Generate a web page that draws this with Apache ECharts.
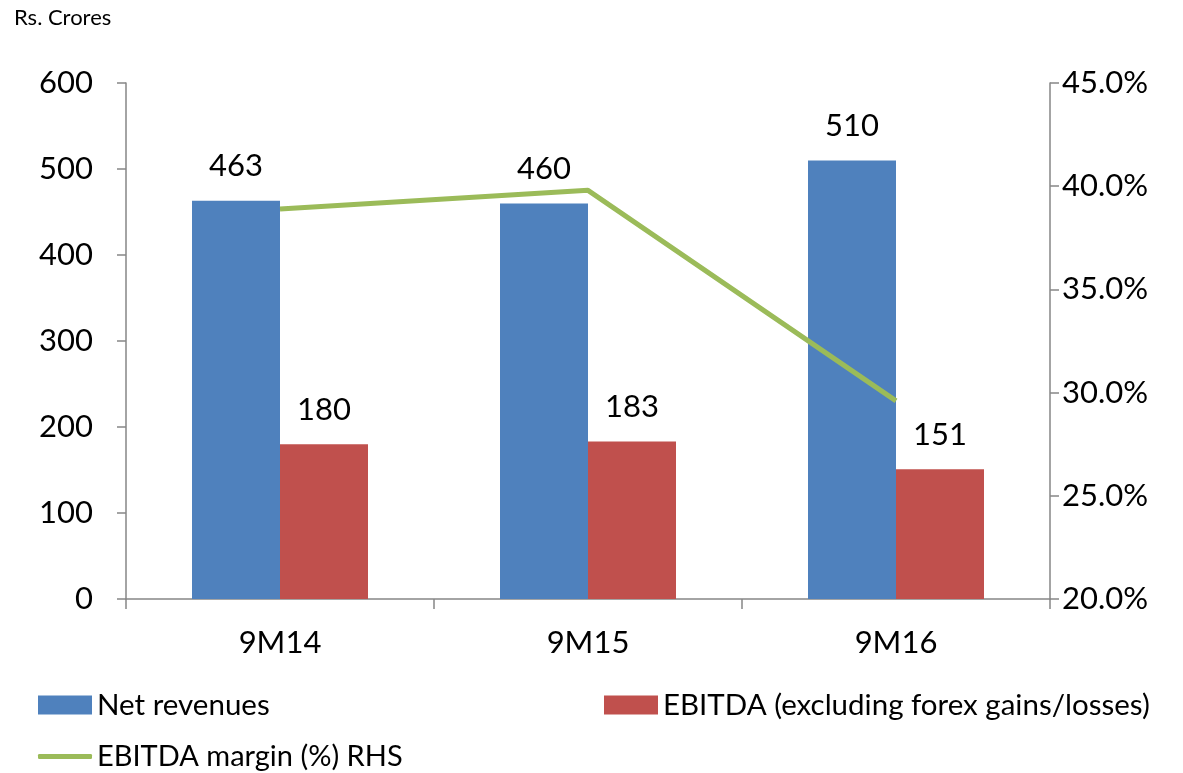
<!DOCTYPE html>
<html>
<head>
<meta charset="utf-8">
<script src="https://cdn.jsdelivr.net/npm/echarts@6/dist/echarts.min.js"></script>
<style>
html,body{margin:0;padding:0;background:#fff;}
#chart{width:1183px;height:773px;}
</style>
</head>
<body>
<div id="chart"></div>
<script>
const categories = ['9M14', '9M15', '9M16'];
const netRevenues = [463, 460, 510];
const ebitda = [180, 183, 151];
const ebitdaMargin = [38.9, 39.8, 29.6];
const leftTicks = { min: 0, max: 600, interval: 100 };
const rightTicks = { min: 20, max: 45, interval: 5 };

const FONT = 'Lato';
const axisGray = '#868686';
const chart = echarts.init(document.getElementById('chart'));
chart.setOption({
  backgroundColor: '#ffffff',
  textStyle: { fontFamily: FONT },
  graphic: [{
    type: 'text', left: 14, top: 7,
    style: { text: 'Rs. Crores', fontFamily: FONT, fontSize: 22, fill: '#000' }
  }],
  grid: { left: 126, right: 133, top: 83, bottom: 174, containLabel: false },
  legend: [
    { left: 38, top: 690, padding: 0, itemWidth: 54, itemHeight: 19, itemGap: 5, icon: 'rect',
      data: ['Net revenues'], textStyle: { fontFamily: FONT, fontSize: 29.5, color: '#000' } },
    { left: 604, top: 690, padding: 0, itemWidth: 54, itemHeight: 19, itemGap: 5, icon: 'rect',
      data: ['EBITDA (excluding forex gains/losses)'], textStyle: { fontFamily: FONT, fontSize: 29.5, color: '#000' } },
    { left: 38, top: 742, padding: 0, itemWidth: 54, itemHeight: 5, icon: 'roundRect',
      data: ['EBITDA margin (%) RHS'], textStyle: { fontFamily: FONT, fontSize: 29, color: '#000' } }
  ],
  xAxis: {
    type: 'category', data: categories,
    axisLine: { lineStyle: { color: axisGray, width: 1.5 } },
    axisTick: { show: true, alignWithLabel: false, length: 10, lineStyle: { color: axisGray, width: 1.5 } },
    axisLabel: { fontFamily: FONT, fontSize: 31, color: '#000', margin: 28 }
  },
  yAxis: [
    { type: 'value', min: leftTicks.min, max: leftTicks.max, interval: leftTicks.interval,
      axisLine: { show: true, lineStyle: { color: axisGray, width: 1.5 } },
      axisTick: { show: true, length: 9, lineStyle: { color: axisGray, width: 1.5 } },
      splitLine: { show: false },
      axisLabel: { fontFamily: FONT, fontSize: 31, color: '#000', margin: 33 } },
    { type: 'value', min: rightTicks.min, max: rightTicks.max, interval: rightTicks.interval,
      position: 'right',
      axisLine: { show: true, lineStyle: { color: axisGray, width: 1.5 } },
      axisTick: { show: true, length: 9, lineStyle: { color: axisGray, width: 1.5 } },
      splitLine: { show: false },
      axisLabel: { fontFamily: FONT, fontSize: 31, color: '#000', margin: 12,
        formatter: v => v.toFixed(1) + '%' } }
  ],
  series: [
    { name: 'Net revenues', type: 'bar', data: netRevenues, barWidth: 88, barGap: '0%',
      itemStyle: { color: '#4F81BD' },
      label: { show: true, position: 'top', distance: 19, fontFamily: FONT, fontSize: 31, color: '#000' } },
    { name: 'EBITDA (excluding forex gains/losses)', type: 'bar', data: ebitda, barWidth: 88,
      itemStyle: { color: '#C0504D' },
      label: { show: true, position: 'top', distance: 19, fontFamily: FONT, fontSize: 31, color: '#000' } },
    { name: 'EBITDA margin (%) RHS', type: 'line', yAxisIndex: 1, data: ebitdaMargin,
      symbol: 'none', lineStyle: { color: '#9BBB59', width: 5 }, itemStyle: { color: '#9BBB59' } }
  ],
  animation: false
});
</script>
</body>
</html>
